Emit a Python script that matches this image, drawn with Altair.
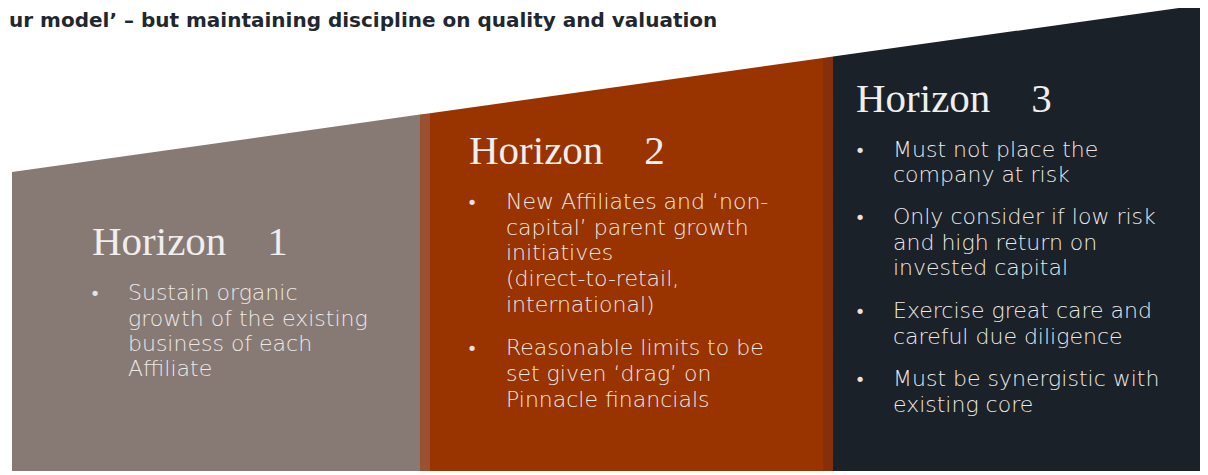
import altair as alt
import pandas as pd

# ---- shapes: panel edges and slanted top ----
panel_names = ["Horizon 1", "stripe 1", "Horizon 2", "stripe 2", "Horizon 3"]
panel_left = [12, 420, 430, 823, 833]
panel_right = [420, 430, 823, 833, 1208]
top_left = [172.0, 114.6, 113.2, 58.0, 56.6]
top_right = [114.6, 113.2, 58.0, 56.6, 3.9]
panel_bottom = 471
panel_colors = ["#877a75", "#9a5031", "#993300", "#85300b", "#1a2128"]

# ---- headings ----
head_text = ["Horizon\u30001", "Horizon\u30002", "Horizon\u30003"]
head_x = [92, 469, 856]
head_y = [255, 164, 112]

# ---- bullets ----
bullet_x = [95, 472, 860]
bullet_panel = [0, 1, 1, 2, 2, 2, 2]
bullet_y = [300, 209, 355, 157, 224, 318, 386]

# ---- body lines ----
line_panel = [0, 0, 0, 0,
              1, 1, 1, 1, 1, 1, 1, 1,
              2, 2, 2, 2, 2, 2, 2, 2, 2]
line_y = [300, 325.5, 351, 376,
          209, 235, 260, 286, 311.5, 355, 381, 407,
          157, 182, 224, 250, 275, 318, 344, 386, 412]
line_text = [
    "Sustain organic", "growth of the existing", "business of each", "Affiliate",
    "New Affiliates and \u2018non-", "capital\u2019 parent growth", "initiatives",
    "(direct-to-retail,", "international)",
    "Reasonable limits to be", "set given \u2018drag\u2019 on", "Pinnacle financials",
    "Must not place the", "company at risk",
    "Only consider if low risk", "and high return on", "invested capital",
    "Exercise great care and", "careful due diligence",
    "Must be synergistic with", "existing core",
]
text_x = [128, 506, 893]

title_text = "ur model\u2019 \u2013 but maintaining discipline on quality and valuation"

# ---- build tables ----
rows = []
for i, n in enumerate(panel_names):
    rows.append({"panel": n, "x": panel_left[i], "top": top_left[i], "bottom": panel_bottom})
    rows.append({"panel": n, "x": panel_right[i], "top": top_right[i], "bottom": panel_bottom})
shapes = pd.DataFrame(rows)

heads = pd.DataFrame({"x": head_x, "y": head_y, "text": head_text})
bullets = pd.DataFrame({"x": [bullet_x[p] for p in bullet_panel], "y": bullet_y, "text": ["\u2022"] * len(bullet_y)})
lines = pd.DataFrame({"x": [text_x[p] for p in line_panel], "y": line_y, "text": line_text})
title = pd.DataFrame({"x": [9], "y": [27], "text": [title_text]})

xs = alt.Scale(domain=[8, 1200], range=[0, 1192], nice=False, zero=False)
ys = alt.Scale(domain=[8, 475], range=[0, 467], nice=False, zero=False)

def X(field="x"):
    return alt.X(f"{field}:Q", scale=xs, axis=None)

def Y(field="y"):
    return alt.Y(f"{field}:Q", scale=ys, axis=None)

area = alt.Chart(shapes).mark_area(opacity=1, strokeWidth=0, clip=True).encode(
    x=X(),
    y=alt.Y("top:Q", scale=ys, axis=None, stack=None),
    y2="bottom:Q",
    color=alt.Color("panel:N", scale=alt.Scale(domain=panel_names, range=panel_colors), legend=None),
    detail="panel:N",
)

heading = alt.Chart(heads).mark_text(
    align="left", baseline="alphabetic", font="Liberation Serif, 'Noto Serif CJK JP', serif",
    fontSize=41, color="#f0eeee",
).encode(x=X(), y=Y(), text="text:N")

bullet = alt.Chart(bullets).mark_text(
    align="center", baseline="alphabetic", font="'DejaVu Sans', sans-serif",
    fontSize=18, color="#e6e2e0",
).encode(x=X(), y=Y(), text="text:N")

body = alt.Chart(lines).mark_text(
    align="left", baseline="alphabetic", font="'DejaVu Sans', sans-serif",
    fontSize=22, fontWeight=300, color="#ece8e6",
).encode(x=X(), y=Y(), text="text:N")

ttl = alt.Chart(title).mark_text(
    align="left", baseline="alphabetic", font="'DejaVu Sans', sans-serif",
    fontSize=20, fontWeight="bold", color="#1f2830",
).encode(x=X(), y=Y(), text="text:N")

chart = alt.layer(area, heading, bullet, body, ttl).properties(
    width=1192, height=467, padding=0, autosize=alt.AutoSizeParams(type="none"),
    background="white",
).configure_view(stroke=None)

chart.save("out.html", embed_options={"renderer": "svg", "actions": False})
